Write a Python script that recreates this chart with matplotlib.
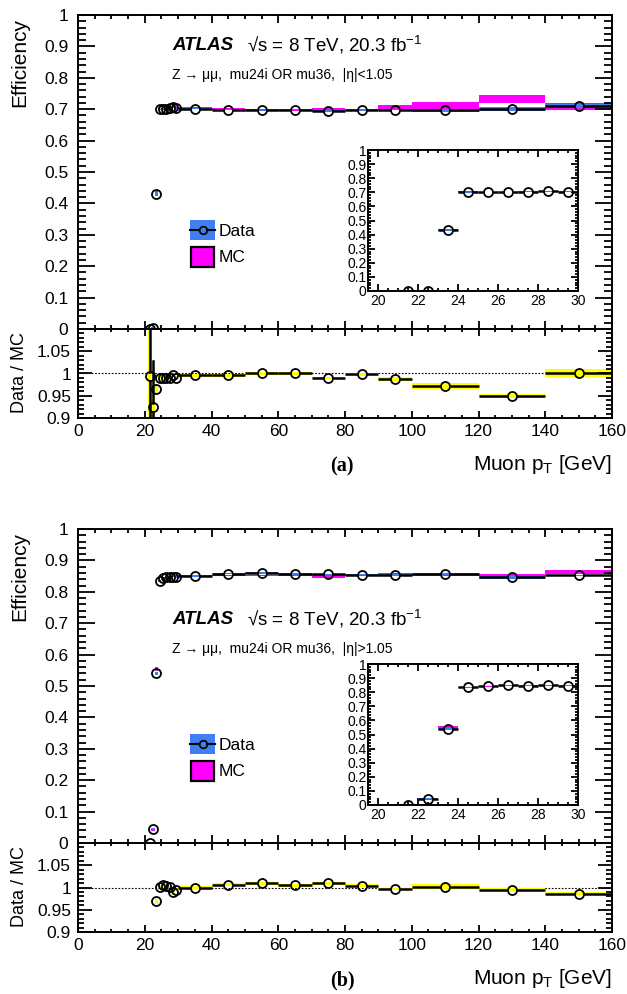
import numpy as np
import matplotlib
matplotlib.use('Agg')
import matplotlib.pyplot as plt
from matplotlib.ticker import MultipleLocator, FixedLocator, FuncFormatter
from matplotlib.patches import Rectangle
from matplotlib.lines import Line2D

plt.rcParams['font.family'] = ['Liberation Sans', 'DejaVu Sans']
plt.rcParams['mathtext.fontset'] = 'custom'
plt.rcParams['mathtext.rm'] = 'Liberation Sans'
plt.rcParams['mathtext.it'] = 'Liberation Sans:italic'
plt.rcParams['mathtext.bf'] = 'Liberation Sans:bold'

# muon pT binning [GeV]
bin_edges = [21, 22, 23, 24, 25, 26, 27, 28, 29, 30, 40, 50, 60, 70, 80, 90, 100, 120, 140, 160]

# (a) |eta| < 1.05
eff_data_a = [0.000, 0.003, 0.430, 0.700, 0.701, 0.701, 0.704, 0.706, 0.704, 0.702,
              0.698, 0.697, 0.698, 0.694, 0.697, 0.699, 0.696, 0.700, 0.711]
err_data_a = [0.001, 0.002, 0.006, 0.002, 0.002, 0.002, 0.002, 0.002, 0.002, 0.002,
              0.002, 0.002, 0.002, 0.003, 0.003, 0.003, 0.004, 0.007, 0.007]
eff_mc_a = [0.001, 0.003, 0.437, 0.706, 0.708, 0.708, 0.710, 0.708, 0.710, 0.705,
            0.701, 0.697, 0.698, 0.701, 0.699, 0.708, 0.713, 0.733, 0.710]
err_mc_a = [0.001, 0.001, 0.006, 0.002, 0.002, 0.002, 0.002, 0.002, 0.002, 0.003,
            0.003, 0.003, 0.003, 0.004, 0.003, 0.006, 0.011, 0.012, 0.011]
ratio_a = [0.994, 0.924, 0.965, 0.991, 0.989, 0.989, 0.990, 0.997, 0.991, 0.996,
           0.996, 1.000, 1.000, 0.990, 0.998, 0.988, 0.972, 0.950, 1.001]
ratio_err_a = [0.500, 0.105, 0.008, 0.003, 0.003, 0.003, 0.003, 0.003, 0.003, 0.003,
               0.003, 0.003, 0.003, 0.004, 0.004, 0.005, 0.006, 0.010, 0.006]
ratio_band_a = [0.500, 0.020, 0.008, 0.003, 0.003, 0.003, 0.003, 0.003, 0.003, 0.003,
                0.003, 0.003, 0.003, 0.003, 0.003, 0.004, 0.006, 0.005, 0.008]

# (b) |eta| > 1.05
eff_data_b = [0.000, 0.045, 0.540, 0.835, 0.845, 0.848, 0.846, 0.848, 0.847, 0.850,
              0.858, 0.860, 0.857, 0.856, 0.855, 0.854, 0.856, 0.846, 0.852]
err_data_b = [0.001, 0.004, 0.006, 0.002, 0.002, 0.002, 0.002, 0.002, 0.002, 0.002,
              0.002, 0.002, 0.002, 0.002, 0.002, 0.003, 0.003, 0.004, 0.003]
eff_mc_b = [0.000, 0.043, 0.553, 0.833, 0.840, 0.845, 0.845, 0.857, 0.851, 0.850,
            0.853, 0.852, 0.853, 0.848, 0.852, 0.857, 0.854, 0.850, 0.864]
err_mc_b = [0.001, 0.006, 0.006, 0.002, 0.002, 0.002, 0.002, 0.002, 0.002, 0.002,
            0.002, 0.002, 0.002, 0.004, 0.002, 0.004, 0.003, 0.007, 0.007]
ratio_b = [np.nan, np.nan, 0.969, 1.002, 1.006, 1.004, 1.001, 0.989, 0.995, 1.000,
           1.006, 1.009, 1.005, 1.009, 1.004, 0.997, 1.002, 0.995, 0.986]
ratio_err_b = [np.nan, np.nan, 0.006, 0.003, 0.003, 0.003, 0.003, 0.003, 0.003, 0.003,
               0.003, 0.003, 0.003, 0.003, 0.003, 0.003, 0.003, 0.008, 0.003]
ratio_band_b = [np.nan, np.nan, 0.006, 0.003, 0.003, 0.003, 0.003, 0.003, 0.003, 0.003,
                0.003, 0.003, 0.003, 0.003, 0.003, 0.003, 0.005, 0.004, 0.003]

BLUE = '#3f7ff2'
MAGENTA = '#ff00ff'
YELLOW = '#ffff00'
MS = 6.5
W, H = 627, 994
DPI = 100

fig = plt.figure(figsize=(W / DPI, H / DPI), dpi=DPI)


def rect(left, top, right, bottom):
    return [left / W, 1 - bottom / H, (right - left) / W, (bottom - top) / H]


def fx(x):
    return x / W


def fy(y):
    return 1 - y / H


def marker_gap(ax):
    # marker radius expressed in data units along x and y
    pos = ax.get_position()
    r = MS / 2 * DPI / 72
    x0, x1 = ax.get_xlim()
    y0, y1 = ax.get_ylim()
    return r * (x1 - x0) / (pos.width * W), r * (y1 - y0) / (pos.height * H)


def draw_points(ax, y, yerr, lw=1.8):
    lo = np.array(bin_edges[:-1], float)
    hi = np.array(bin_edges[1:], float)
    ctr = (lo + hi) / 2
    y = np.array(y, float)
    yerr = np.array(yerr, float)
    gx, gy = marker_gap(ax)
    for i in range(len(ctr)):
        if np.isnan(y[i]):
            continue
        if ctr[i] - gx > lo[i]:
            ax.plot([lo[i], ctr[i] - gx], [y[i], y[i]], color='k', lw=lw, zorder=4,
                    solid_capstyle='butt')
            ax.plot([ctr[i] + gx, hi[i]], [y[i], y[i]], color='k', lw=lw, zorder=4,
                    solid_capstyle='butt')
        if yerr[i] > gy:
            ax.plot([ctr[i], ctr[i]], [y[i] + gy, y[i] + yerr[i]], color='k', lw=lw, zorder=4)
            ax.plot([ctr[i], ctr[i]], [y[i] - gy, y[i] - yerr[i]], color='k', lw=lw, zorder=4)
    ok = ~np.isnan(y)
    ax.plot(ctr[ok], y[ok], 'o', mfc='none', mec='k', mew=1.3, ms=MS, zorder=5)


def draw_eff(ax, data, data_err, mc, mc_err):
    lo = np.array(bin_edges[:-1], float)
    hi = np.array(bin_edges[1:], float)
    mc = np.array(mc)
    mc_err = np.array(mc_err)
    data = np.array(data)
    data_err = np.array(data_err)
    ax.bar((lo + hi) / 2, 2 * mc_err, bottom=mc - mc_err, width=hi - lo,
           color=MAGENTA, lw=0, zorder=1)
    ax.bar((lo + hi) / 2, 2 * data_err, bottom=data - data_err, width=hi - lo,
           color=BLUE, lw=0, zorder=2)
    draw_points(ax, data, data_err)


def style_ticks(ax, xlen, ylen, labelsize, pad):
    ax.tick_params(which='both', direction='in', top=True, right=True,
                   width=1.3, labelsize=labelsize, pad=pad)
    ax.tick_params(axis='x', which='major', length=xlen[0])
    ax.tick_params(axis='x', which='minor', length=xlen[1])
    ax.tick_params(axis='y', which='major', length=ylen[0])
    ax.tick_params(axis='y', which='minor', length=ylen[1])
    for s in ax.spines.values():
        s.set_linewidth(1.4)


fmt = FuncFormatter(lambda v, p: '%g' % round(v, 3))


def panel(dy, text_dy, data, data_err, mc, mc_err, ratio, ratio_err, ratio_band,
          eta_text, tag):
    ax = fig.add_axes(rect(78, 15 + dy, 612, 329 + dy))
    ax.set_xlim(0, 160)
    ax.set_ylim(0, 1)
    ax.xaxis.set_major_locator(MultipleLocator(20))
    ax.xaxis.set_minor_locator(MultipleLocator(5))
    ax.yaxis.set_major_locator(MultipleLocator(0.1))
    ax.yaxis.set_minor_locator(MultipleLocator(0.02))
    ax.yaxis.set_major_formatter(fmt)
    style_ticks(ax, (5.5, 3), (12.5, 6), 12.5, 7)
    ax.tick_params(axis='x', labelbottom=False)
    draw_eff(ax, data, data_err, mc, mc_err)

    # ratio panel
    rx = fig.add_axes(rect(78, 329 + dy, 612, 418 + dy))
    rx.set_xlim(0, 160)
    rx.set_ylim(0.9, 1.1)
    rx.xaxis.set_major_locator(MultipleLocator(20))
    rx.xaxis.set_minor_locator(MultipleLocator(5))
    rx.yaxis.set_major_locator(FixedLocator([0.9, 0.95, 1.0, 1.05]))
    rx.yaxis.set_minor_locator(MultipleLocator(0.01))
    rx.yaxis.set_major_formatter(fmt)
    style_ticks(rx, (5, 2.5), (10, 4.5), 12.5, 5)
    rx.tick_params(axis='x', pad=4)
    rx.axhline(1.0, color='k', lw=0.8, ls=(0, (1.5, 1.5)), zorder=0.5)
    lo = np.array(bin_edges[:-1], float)
    hi = np.array(bin_edges[1:], float)
    r = np.array(ratio, float)
    rb = np.array(ratio_band, float)
    ok = ~np.isnan(r)
    rx.bar(((lo + hi) / 2)[ok], 2 * rb[ok], bottom=(r - rb)[ok], width=(hi - lo)[ok],
           color=YELLOW, lw=0, zorder=1)
    draw_points(rx, ratio, ratio_err)

    # inset zoom on the turn-on
    ix = fig.add_axes(rect(368, 150 + dy, 578, 291 + dy))
    ix.set_xlim(19.5, 30)
    ix.set_ylim(0, 1)
    ix.xaxis.set_major_locator(MultipleLocator(2))
    ix.xaxis.set_minor_locator(MultipleLocator(0.5))
    ix.yaxis.set_major_locator(MultipleLocator(0.1))
    ix.yaxis.set_minor_locator(MultipleLocator(0.02))
    ix.yaxis.set_major_formatter(fmt)
    style_ticks(ix, (5, 2.5), (5, 2.5), 10, 1)
    ix.tick_params(axis='x', pad=2)
    draw_eff(ix, data, data_err, mc, mc_err)

    # labels
    fig.text(fx(20), fy(18 + dy), 'Efficiency', rotation=90, ha='center', va='top', size=15)
    fig.text(fx(20), fy(332 + dy), 'Data / MC', rotation=90, ha='center', va='top', size=13)
    fig.text(fx(612), fy(464 + dy), r'Muon p$_{\mathrm{T}}$ [GeV]', ha='right', va='center',
             size=15)
    fig.text(fx(342), fy(466 + dy), tag, family=['Liberation Serif', 'DejaVu Serif'],
             weight='bold', ha='center', va='center', size=14.5)

    fig.text(fx(172), fy(45 + text_dy), 'ATLAS', weight='bold', style='italic',
             size=13.5, va='center')
    fig.text(fx(247), fy(45 + text_dy), '\u221as = 8 TeV, 20.3 fb$^{-1}$', size=13.5,
             va='center')
    fig.text(fx(172), fy(75 + text_dy), 'Z \u2192 \u03bc\u03bc,  mu24i OR mu36,  ' + eta_text,
             size=10, va='center')

    # legend
    fig.add_artist(Rectangle((fx(190), fy(240 + dy)), 25 / W, 20 / H, transform=fig.transFigure,
                             fc=BLUE, ec='none'))
    fig.add_artist(Line2D([fx(190), fx(198.5)], [fy(230 + dy)] * 2, color='k', lw=1.5,
                          transform=fig.transFigure))
    fig.add_artist(Line2D([fx(206.5), fx(215)], [fy(230 + dy)] * 2, color='k', lw=1.5,
                          transform=fig.transFigure))
    fig.add_artist(Line2D([fx(202.5)], [fy(230 + dy)], marker='o', mfc='none', mec='k',
                          mew=1.2, ms=5.5, transform=fig.transFigure))
    fig.add_artist(Rectangle((fx(191), fy(267 + dy)), 23 / W, 20 / H, transform=fig.transFigure,
                             fc=MAGENTA, ec='k', lw=1.6))
    fig.text(fx(219), fy(231 + dy), 'Data', va='center', size=12.5)
    fig.text(fx(219), fy(258 + dy), 'MC', va='center', size=12.5)


panel(0, 0, eff_data_a, err_data_a, eff_mc_a, err_mc_a, ratio_a, ratio_err_a, ratio_band_a,
      '|\u03b7|<1.05', '(a)')
panel(514, 574, eff_data_b, err_data_b, eff_mc_b, err_mc_b, ratio_b, ratio_err_b, ratio_band_b,
      '|\u03b7|>1.05', '(b)')

fig.savefig('out.png', dpi=DPI)
